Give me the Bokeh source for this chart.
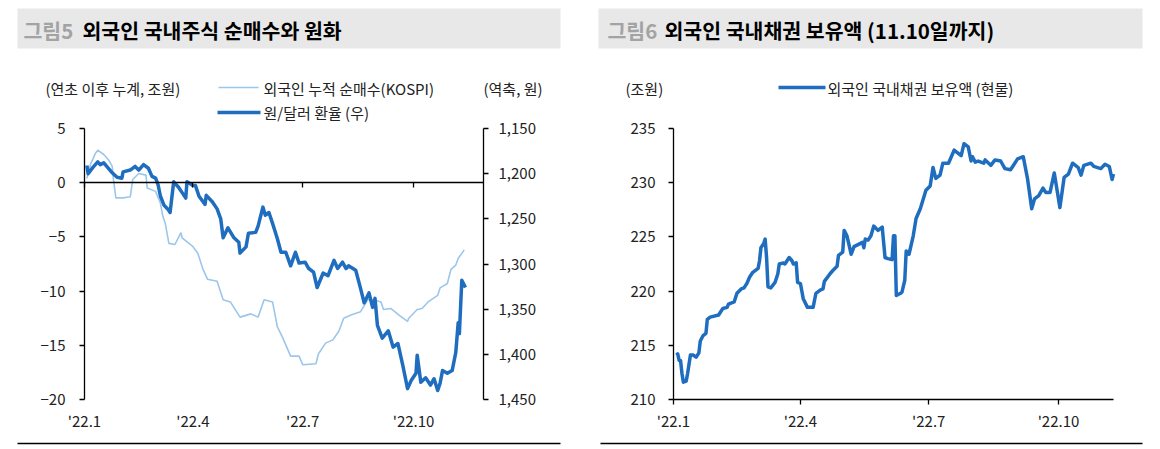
import pandas as pd
from bokeh.plotting import figure
from bokeh.layouts import row
from bokeh.models import Range1d, LinearAxis, FixedTicker, NumeralTickFormatter
from bokeh.embed import file_html
from bokeh.resources import INLINE
from bokeh.core.properties import value

FONT = "Noto Sans CJK KR"
DARK = "#1f6dbf"
LIGHT = "#9cc6ea"
BAR = "#e8e8e8"
TXT = "#222222"

# ---------------- data ----------------
kospi_dates = ["01-03", "01-06", "01-10", "01-12", "01-17", "01-21", "01-24", "01-25", "01-27",
               "02-02", "02-08", "02-10", "02-15", "02-21", "02-22", "03-01", "03-05", "03-07",
               "03-09", "03-12", "03-17", "03-22", "03-23", "04-01", "04-05", "04-09", "04-13",
               "04-21", "04-26", "05-02", "05-10", "05-19", "05-25", "05-30", "06-06", "06-10",
               "06-14", "06-21", "06-28", "07-01", "07-12", "07-14", "07-20", "07-26", "07-31",
               "08-04", "08-10", "08-18", "08-24", "08-29", "09-04", "09-06", "09-12", "09-20",
               "09-26", "09-27", "10-04", "10-08", "10-13", "10-21", "10-23", "10-29", "11-01",
               "11-05", "11-07", "11-12"]
kospi_net_buy = [0.4, 1.7, 2.7, 3.0, 2.6, 2.1, 1.5, 0.3, -1.4,
                 -1.4, -1.3, 0.3, 0.85, 0.7, -0.5, -0.8, -1.9, -3.1,
                 -3.75, -5.6, -5.7, -4.6, -5.1, -5.9, -6.5, -7.9, -8.9,
                 -9.1, -10.8, -11.0, -12.4, -12.1, -12.4, -10.8, -11.0, -13.3,
                 -14.2, -16.0, -16.0, -16.8, -16.7, -15.8, -14.8, -14.5, -13.7,
                 -12.5, -12.2, -11.9, -10.8, -10.8, -11.0, -11.7, -11.6, -12.3,
                 -12.8, -12.5, -11.7, -11.6, -11.0, -10.4, -9.7, -9.3, -8.0,
                 -7.6, -7.0, -6.2]

fx_dates = ["01-03", "01-04", "01-08", "01-12", "01-14", "01-17", "01-24", "01-28", "02-01",
            "02-02", "02-08", "02-12", "02-15", "02-19", "02-23", "02-26", "03-01", "03-03",
            "03-05", "03-08", "03-11", "03-13", "03-16", "03-20", "03-23", "03-26", "03-27",
            "04-01", "04-03", "04-06", "04-11", "04-12", "04-17", "04-21", "04-24", "04-26",
            "04-30", "05-05", "05-09", "05-10", "05-15", "05-17", "05-23", "05-25", "05-29",
            "05-31", "06-03", "06-06", "06-10", "06-13", "06-17", "06-21", "06-25", "06-28",
            "07-03", "07-06", "07-10", "07-13", "07-18", "07-22", "07-27", "07-30", "08-03",
            "08-06", "08-08", "08-14", "08-18", "08-21", "08-25", "08-28", "08-30", "09-01",
            "09-05", "09-10", "09-14", "09-18", "09-22", "09-26", "09-29", "10-03", "10-04",
            "10-07", "10-11", "10-15", "10-18", "10-21", "10-23", "10-25", "10-29", "11-02",
            "11-05", "11-07", "11-08", "11-10", "11-13"]
usdkrw = [1191, 1200, 1193, 1187, 1190, 1188, 1199, 1204, 1205,
          1198, 1196, 1192, 1196, 1190, 1194, 1203, 1205, 1212,
          1225, 1235, 1239, 1243, 1209, 1215, 1221, 1227, 1209,
          1213, 1213, 1225, 1234, 1224, 1231, 1239, 1250, 1271,
          1260, 1271, 1276, 1288, 1281, 1266, 1265, 1258, 1237,
          1246, 1243, 1255, 1272, 1287, 1287, 1302, 1287, 1299,
          1298, 1305, 1309, 1326, 1310, 1313, 1296, 1305, 1298,
          1305, 1302, 1307, 1327, 1343, 1332, 1348, 1338, 1368,
          1382, 1374, 1392, 1388, 1412, 1438, 1429, 1421, 1401,
          1431, 1426, 1434, 1427, 1440, 1432, 1418, 1421, 1418,
          1398, 1365, 1377, 1318, 1326]

bond_dates = ["01-03", "01-04", "01-05", "01-06", "01-07", "01-08", "01-10", "01-11", "01-13",
              "01-15", "01-17", "01-19", "01-20", "01-22", "01-24", "01-25", "01-27", "02-02",
              "02-03", "02-05", "02-08", "02-09", "02-13", "02-15", "02-18", "02-20", "02-22",
              "02-24", "02-26", "03-02", "03-03", "03-04", "03-06", "03-07", "03-08", "03-09",
              "03-11", "03-14", "03-16", "03-17", "03-20", "03-21", "03-24", "03-26", "03-27",
              "03-29", "03-30", "04-01", "04-03", "04-06", "04-10", "04-12", "04-15", "04-17",
              "04-18", "04-22", "04-24", "04-27", "04-28", "05-01", "05-02", "05-04", "05-07",
              "05-09", "05-15", "05-16", "05-17", "05-19", "05-21", "05-23", "05-26", "05-29",
              "05-31", "06-02", "06-05", "06-06", "06-07", "06-08", "06-11", "06-12", "06-14",
              "06-15", "06-17", "06-20", "06-22", "06-25", "06-29", "07-02", "07-04", "07-06",
              "07-09", "07-11", "07-15", "07-19", "07-21", "07-24", "07-26", "07-29", "07-31",
              "08-01", "08-03", "08-05", "08-09", "08-10", "08-14", "08-17", "08-21", "08-24",
              "08-28", "09-02", "09-06", "09-09", "09-12", "09-14", "09-17", "09-20", "09-22",
              "09-25", "09-28", "09-30", "10-02", "10-05", "10-08", "10-11", "10-15", "10-17",
              "10-19", "10-24", "10-26", "10-31", "11-03", "11-06", "11-08", "11-09"]
bond_holdings = [214.1, 214.2, 213.6, 213.6, 212.4, 211.6, 211.7, 212.4, 214.1,
                 214.1, 213.9, 214.3, 215.4, 215.9, 216.1, 217.4, 217.6, 217.8,
                 218.0, 218.4, 218.5, 218.8, 219.0, 219.8, 220.2, 220.3, 220.7,
                 221.3, 221.7, 222.1, 222.8, 224.0, 224.4, 224.8, 223.1, 220.4,
                 220.3, 220.8, 221.6, 222.5, 222.6, 222.5, 223.1, 222.8, 222.5,
                 222.6, 220.8, 220.7, 219.3, 218.5, 218.5, 219.8, 220.1, 220.2,
                 220.9, 221.6, 221.9, 222.3, 223.3, 223.6, 225.6, 225.1, 223.4,
                 224.1, 224.5, 224.0, 224.8, 224.7, 225.1, 226.0, 225.6, 225.9,
                 223.1, 223.0, 222.9, 225.1, 225.1, 219.6, 219.8, 219.9, 221.0,
                 223.7, 223.4, 225.1, 226.7, 227.6, 229.3, 229.7, 231.4, 230.4,
                 230.7, 231.8, 231.8, 233.0, 232.8, 232.5, 233.6, 233.3, 232.0,
                 232.4, 231.9, 232.0, 231.8, 232.1, 231.6, 232.1, 232.0, 231.3,
                 231.2, 232.2, 232.4, 230.4, 227.6, 228.5, 228.8, 229.5, 229.1,
                 229.1, 230.9, 229.3, 227.7, 230.5, 230.8, 231.8, 231.4, 230.7,
                 231.6, 231.8, 231.5, 231.3, 231.7, 231.5, 230.3, 230.8]

x_tick_dates = ["2022-01-01", "2022-04-01", "2022-07-01", "2022-10-01"]
x_tick_labels = ["'22.1", "'22.4", "'22.7", "'22.10"]
left_y_ticks = [-20, -15, -10, -5, 0, 5]
fx_ticks = [1150, 1200, 1250, 1300, 1350, 1400, 1450]
bond_ticks = [210, 215, 220, 225, 230, 235]

fig5_no = "그림5"
fig5_title = "외국인 국내주식 순매수와 원화"
fig5_left_unit = "(연초 이후 누계, 조원)"
fig5_right_unit = "(역축, 원)"
fig5_series = ["외국인 누적 순매수(KOSPI)", "원/달러 환율 (우)"]
fig6_no = "그림6"
fig6_title = "외국인 국내채권 보유액 (11.10일까지)"
fig6_unit = "(조원)"
fig6_series = ["외국인 국내채권 보유액 (현물)"]


def ms(d):
    return float(pd.Timestamp(d).value // 10**6)


def to_dt(lst):
    return pd.to_datetime(["2022-" + d for d in lst])


tick_ms = [ms(d) for d in x_tick_dates]
overrides = {t: lab for t, lab in zip(tick_ms, x_tick_labels)}
blank_overrides = {t: "" for t in tick_ms}

PW, PH = 580, 446            # one panel (pixels)
BOX_TOP, BOX_BOT = 128, 399  # plot box inside the panel (pixels from top)


def lin(p, p0, p1, v0, v1):
    return v0 + (p - p0) * (v1 - v0) / (p1 - p0)


def style_axis(ax, standoff):
    ax.axis_line_color = "black"
    ax.axis_line_width = 1.3
    ax.major_tick_line_color = "black"
    ax.major_tick_line_width = 1.3
    ax.major_tick_out = 5
    ax.major_tick_in = 0
    ax.minor_tick_line_color = None
    ax.major_label_text_font = FONT
    ax.major_label_text_font_size = "15px"
    ax.major_label_text_color = TXT
    ax.major_label_standoff = standoff


def panel(box_left, box_right, x_start, x_end, y_top, y_bot):
    x0, x1 = ms(x_start), ms(x_end)
    xr = Range1d(lin(0, box_left, box_right, x0, x1), lin(PW, box_left, box_right, x0, x1))
    yr = Range1d(lin(PH, BOX_TOP, BOX_BOT, y_top, y_bot), lin(0, BOX_TOP, BOX_BOT, y_top, y_bot))
    f = figure(width=PW, height=PH, output_backend="svg", toolbar_location=None,
               x_axis_type="datetime", x_range=xr, y_range=yr,
               x_axis_location=None, y_axis_location=None, outline_line_color=None,
               min_border_left=0, min_border_right=0, min_border_top=0, min_border_bottom=0)
    f.grid.visible = False
    f.extra_x_ranges = {"px": Range1d(0, PW)}
    f.extra_y_ranges = {"py": Range1d(PH, 0)}
    return f, x0, x1


def txt(f, x, y, s, size="15px", color=TXT, bold=False):
    f.text(x=[x], y=[y], text=[s], text_font=value(FONT), text_font_size=size,
           text_color=color, text_baseline="middle", text_align="left",
           text_font_style="bold" if bold else "normal",
           x_range_name="px", y_range_name="py")


def deco_seg(f, xa, xb, y, color, width):
    f.segment(x0=[xa], y0=[y], x1=[xb], y1=[y], line_color=color, line_width=width,
              x_range_name="px", y_range_name="py")


# ---------------- panel 1 ----------------
p1, a0, a1 = panel(84, 483, "2022-01-01", "2022-11-28", 5, -20)
p1.extra_y_ranges["fx"] = Range1d(lin(PH, BOX_TOP, BOX_BOT, 1150, 1450),
                                  lin(0, BOX_TOP, BOX_BOT, 1150, 1450))
p1.quad(left=[17], right=[560], top=[8], bottom=[48], fill_color=BAR, line_color=None,
        x_range_name="px", y_range_name="py")
txt(p1, 23, 29, fig5_no, size="20.5px", color="#a3a3a3", bold=True)
txt(p1, 82, 29, fig5_title, size="20.5px", color="black", bold=True)
txt(p1, 45, 88, fig5_left_unit)
txt(p1, 483, 88, fig5_right_unit)
deco_seg(p1, 218, 258, 87, LIGHT, 1.6)
txt(p1, 263, 88, fig5_series[0])
deco_seg(p1, 217, 260, 112, DARK, 3.5)
txt(p1, 263, 112, fig5_series[1])
deco_seg(p1, 17, 560, 443, "black", 1.4)

yl = LinearAxis(fixed_location=a0, bounds=(-20, 5), ticker=FixedTicker(ticks=left_y_ticks))
style_axis(yl, 14)
p1.add_layout(yl, "left")

yfx = LinearAxis(y_range_name="fx", fixed_location=a1, bounds=(1150, 1450),
                 ticker=FixedTicker(ticks=fx_ticks), formatter=NumeralTickFormatter(format="0,0"))
style_axis(yfx, 10)
p1.add_layout(yfx, "right")

x_zero = LinearAxis(fixed_location=0, bounds=(a0, a1), ticker=FixedTicker(ticks=tick_ms),
                    major_label_overrides=blank_overrides)
style_axis(x_zero, 2)
p1.add_layout(x_zero, "below")

x_lab = LinearAxis(fixed_location=-20, bounds=(a0, a1), ticker=FixedTicker(ticks=tick_ms),
                   major_label_overrides=overrides)
style_axis(x_lab, 10)
x_lab.axis_line_color = None
x_lab.major_tick_line_color = None
x_lab.major_tick_out = 0
p1.add_layout(x_lab, "below")

p1.line(to_dt(kospi_dates), kospi_net_buy, line_color=LIGHT, line_width=1.6)
p1.line(to_dt(fx_dates), usdkrw, y_range_name="fx", line_color=DARK, line_width=3.5,
        line_join="round")

# ---------------- panel 2 ----------------
p2, b0, b1 = panel(93, 533, "2022-01-01", "2022-11-09", 235, 210)
p2.quad(left=[18], right=[562], top=[8], bottom=[48], fill_color=BAR, line_color=None,
        x_range_name="px", y_range_name="py")
txt(p2, 27, 29, fig6_no, size="20.5px", color="#a3a3a3", bold=True)
txt(p2, 84, 29, fig6_title, size="20.5px", color="black", bold=True)
txt(p2, 45, 88, fig6_unit)
deco_seg(p2, 198, 245, 87, DARK, 3.5)
txt(p2, 247, 88, fig6_series[0])
deco_seg(p2, 20, 562, 443, "black", 1.4)

y2 = LinearAxis(fixed_location=b0, bounds=(210, 235), ticker=FixedTicker(ticks=bond_ticks))
style_axis(y2, 13)
p2.add_layout(y2, "left")

x2 = LinearAxis(fixed_location=210, bounds=(b0, b1), ticker=FixedTicker(ticks=tick_ms),
                major_label_overrides=overrides)
style_axis(x2, 5)
p2.add_layout(x2, "below")

p2.line(to_dt(bond_dates), bond_holdings, line_color=DARK, line_width=3.5, line_join="round")

layout = row(p1, p2)
open("out.html", "w").write(file_html(layout, INLINE))
